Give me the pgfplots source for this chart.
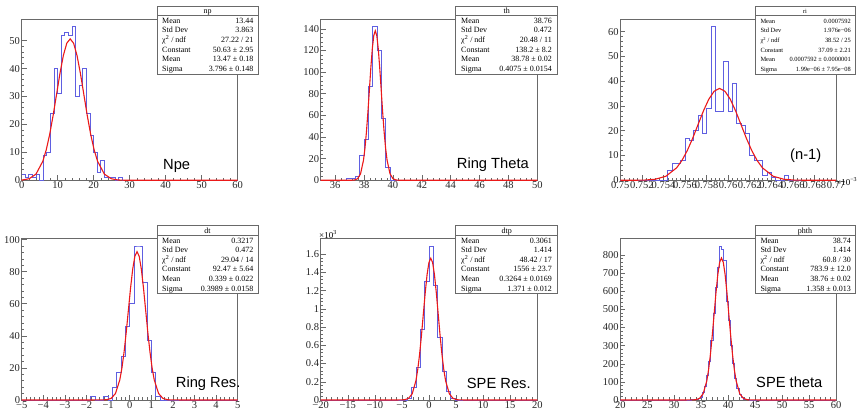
\documentclass[border=0pt]{standalone}
\usepackage{fontspec}
\setmainfont{Liberation Serif}
\newfontfamily\helv{Liberation Sans}
\usepackage{pgfplots}
\pgfplotsset{compat=1.18}
\definecolor{hblue}{RGB}{95,95,225}
\definecolor{fred}{RGB}{235,25,25}
\definecolor{frame}{RGB}{105,105,105}
\pgfplotsset{
 rootax/.style={
  scale only axis, anchor=south west, clip=false,
  axis line style={frame, line width=0.7pt},
  tick align=inside, tick pos=left,
  major tick length=5pt, minor tick length=2.5pt,
  every tick/.style={frame, line width=0.5pt},
  minor tick num=4,
  ticklabel style={font=\fontsize{10.5}{12}\selectfont, text=black!85},
  xticklabel style={inner sep=1pt},
  yticklabel style={inner sep=1.5pt},
  /pgf/number format/assume math mode=true,
  /pgf/number format/fixed,
  scaled ticks=false, ymin=0},
 hist/.style={const plot mark left, hblue, line width=0.8pt, no marks},
 fit/.style={fred, line width=1.1pt, no marks}}
\def\sfont{\fontsize{8}{9}\selectfont}
\newcommand{\statbox}[4]{%
 \draw[frame, line width=0.6pt, fill=white] (#1,{411-#2}) rectangle (#3,{411-#2-68});
 \draw[frame, line width=0.5pt] (#1,{411-#2-9.7}) -- (#3,{411-#2-9.7});
 \node[font=\sfont, inner sep=0, anchor=base] at ({(#1+#3)/2},{411-#2-4.9-2.7}) {#4};}
\newcommand{\srow}[6]{%
 \node[anchor=base west, inner sep=0, font=\sfont] at (#1,{411-#3-14.7-9.6*#4-2.7}) {#5};
 \node[anchor=base east, inner sep=0, font=\sfont] at (#2,{411-#3-14.7-9.6*#4-2.7}) {#6};}
\newcommand{\lab}[3]{\node[anchor=base west, inner sep=0, font=\helv\fontsize{14.7}{16}\selectfont] at (#1,{411-#2}) {#3};}
\begin{document}
\begin{tikzpicture}[x=1pt,y=1pt]
\useasboundingbox (0,0) rectangle (860,411);
% ---------- P1 np
\begin{axis}[rootax, at={(21.7pt,230.7pt)}, width=216pt, height=161.3pt,
 xmin=0, xmax=60, ymax=57.75, xtick={0,10,...,60}, ytick={0,10,...,50}]
\addplot[hist] coordinates {(0,2)(1,1)(2,2)(3,1)(4,2)(5,0)(6,9)(7,10)(8,24)(9,40)(10,31)(11,52)(12,53)(13,52)(14,55)(15,30)(16,34)(17,40)(18,24)(19,16)(20,10)(21,3)(22,7)(23,1)(24,1)(25,1)(26,0)(27,1)(28,0)(60,0)};
\addplot[fit] coordinates {(0,0.09)(0.184,0.111)(2.082,0.563)(3.98,2.225)(5.878,6.852)(6.827,10.950)(7.776,16.437)(8.725,23.180)(9.674,30.709)(10.623,38.218)(11.572,44.681)(12.521,49.072)(13.47,50.63)(14.419,49.072)(15.368,44.681)(16.317,38.218)(17.266,30.709)(18.215,23.180)(19.164,16.437)(20.113,10.950)(21.062,6.852)(22.96,2.225)(24.858,0.563)(26.756,0.111)(28.654,0.017)(32,0)(60,0)};
\end{axis}
% ---------- P2 th
\begin{axis}[rootax, at={(320.7pt,230.7pt)}, width=216.6pt, height=161.3pt,
 xmin=35, xmax=50, ymax=149.1, xtick={36,38,...,50}, ytick={0,20,...,140}]
\addplot[hist] coordinates {(35,0)(36.8,2)(37.1,2)(37.4,4)(37.7,23)(38.0,38)(38.3,87)(38.6,142)(38.9,120)(39.2,57)(39.5,12)(39.8,0)(50,0)};
\addplot[fit] coordinates {(35,0)(37.15,0.046)(37.354,0.303)(37.558,1.535)(37.761,6.07)(37.965,18.70)(38.067,29.89)(38.169,44.87)(38.271,63.27)(38.373,83.82)(38.474,104.32)(38.576,121.96)(38.678,133.95)(38.78,138.2)(38.882,133.95)(38.984,121.96)(39.086,104.32)(39.188,83.82)(39.289,63.27)(39.391,44.87)(39.493,29.89)(39.595,18.70)(39.799,6.07)(40.003,1.535)(40.206,0.303)(40.41,0.046)(50,0)};
\end{axis}
% ---------- P3 ri
\begin{axis}[rootax, at={(620.3pt,230.7pt)}, width=215.7pt, height=161.3pt,
 xmin=0.75, xmax=0.77, ymax=65.1,
 xtick={0.75,0.752,0.754,0.756,0.758,0.76,0.762,0.764,0.766,0.768,0.77},
 xticklabels={0.75,0.752,0.754,0.756,0.758,0.76,0.762,0.764,0.766,0.768,0.77},
 ytick={0,10,...,60}]
\addplot[hist] coordinates {(0.75,0)(0.7544,4)(0.7548,7)(0.7552,7)(0.7556,8)(0.7560,17)(0.7564,16)(0.7568,20)(0.7572,26)(0.7576,19)(0.7580,29)(0.7584,62)(0.7588,28)(0.7592,28)(0.7596,48)(0.7600,28)(0.7604,39)(0.7608,23)(0.7612,22)(0.7616,19)(0.7620,10)(0.7624,8)(0.7628,8)(0.7632,2)(0.7636,3)(0.7640,1)(0.7644,0)(0.7652,2)(0.7656,0)(0.77,0)};
\addplot[fit] coordinates {(0.75,0)(0.75124,0.0124)(0.752235,0.0812)(0.75323,0.412)(0.754225,1.630)(0.75522,5.020)(0.7557175,8.021)(0.756215,12.041)(0.7567125,16.981)(0.75721,22.496)(0.7577075,27.997)(0.758205,32.732)(0.7587025,35.949)(0.7592,37.09)(0.7596975,35.949)(0.760195,32.732)(0.7606925,27.997)(0.76119,22.496)(0.7616875,16.981)(0.762185,12.041)(0.7626825,8.021)(0.76318,5.020)(0.764175,1.630)(0.76517,0.412)(0.766165,0.0812)(0.76716,0.0124)(0.77,0)};
\end{axis}
% ---------- P4 dt
\begin{axis}[rootax, at={(21.7pt,11pt)}, width=216pt, height=161.7pt,
 xmin=-5, xmax=5, ymax=100.8, xtick={-5,-4,...,5},
 xticklabels={−5,−4,−3,−2,−1,0,1,2,3,4,5}, ytick={0,20,...,100}]
\addplot[hist] coordinates {(-5,0)(-1.8,2)(-1.6,0)(-1.2,2)(-1.0,0)(-0.8,8)(-0.6,17)(-0.4,27)(-0.2,46)(0,60)(0.2,96)(0.4,96)(0.6,73)(0.8,37)(1.0,17)(1.2,2)(1.4,0)(5,0)};
\addplot[fit] coordinates {(-5,0)(-1.2566,0.031)(-1.05715,0.2025)(-0.8577,1.027)(-0.65825,4.063)(-0.4588,12.515)(-0.359075,19.999)(-0.25935,30.020)(-0.159625,42.335)(-0.0599,56.086)(0.039825,69.800)(0.13955,81.605)(0.239275,89.625)(0.339,92.47)(0.438725,89.625)(0.53845,81.605)(0.638175,69.800)(0.7379,56.086)(0.837625,42.335)(0.93735,30.020)(1.037075,19.999)(1.1368,12.515)(1.33625,4.063)(1.5357,1.027)(1.73515,0.2025)(1.9346,0.031)(5,0)};
\end{axis}
% ---------- P5 dtp
\begin{axis}[rootax, at={(320.7pt,11pt)}, width=216.6pt, height=161.7pt,
 xmin=-20, xmax=20, ymax=1.7745, xtick={-20,-15,...,20},
 xticklabels={−20,−15,−10,−5,0,5,10,15,20},
 ytick={0,0.2,0.4,0.6,0.8,1,1.2,1.4,1.6}]
\addplot[hist] coordinates {(-20,0)(-4.0,0.02)(-3.2,0.14)(-2.4,0.36)(-1.6,0.78)(-0.8,1.30)(0,1.69)(0.8,1.26)(1.6,0.69)(2.4,0.31)(3.2,0.09)(4.0,0.015)(4.8,0)(20,0)};
\addplot[fit] coordinates {(-20,0)(-5.1576,0.0005)(-4.4721,0.0034)(-3.7866,0.0173)(-3.1011,0.0684)(-2.4156,0.2106)(-2.07285,0.3365)(-1.7301,0.5052)(-1.38735,0.7124)(-1.0446,0.9438)(-0.70185,1.1745)(-0.3591,1.3732)(-0.01635,1.5081)(0.3264,1.556)(0.66915,1.5081)(1.0119,1.3732)(1.35465,1.1745)(1.6974,0.9438)(2.04015,0.7124)(2.3829,0.5052)(2.72565,0.3365)(3.0684,0.2106)(3.7539,0.0684)(4.4394,0.0173)(5.1249,0.0034)(5.8104,0.0005)(20,0)};
\end{axis}
% ---------- P6 phth
\begin{axis}[rootax, at={(620.3pt,11pt)}, width=215.7pt, height=161.7pt,
 xmin=20, xmax=60, ymax=892.5, xtick={20,25,...,60}, ytick={0,100,...,800}]
\addplot[hist] coordinates {(20,0)(33.2,3)(33.6,1)(34.0,3)(34.4,7)(34.8,17)(35.2,40)(35.6,75)(36.0,135)(36.4,215)(36.8,330)(37.2,480)(37.6,620)(38.0,730)(38.4,850)(38.8,830)(39.2,770)(39.6,545)(40.0,440)(40.4,300)(40.8,200)(41.2,120)(41.6,65)(42.0,30)(42.4,14)(42.8,6)(43.2,2)(43.6,1)(44.0,0)(60,0)};
\addplot[fit] coordinates {(20,0)(33.328,0.263)(34.007,1.717)(34.686,8.709)(35.365,34.44)(36.044,106.09)(36.3835,169.53)(36.723,254.49)(37.0625,358.89)(37.402,475.46)(37.7415,591.72)(38.081,691.79)(38.4205,759.78)(38.76,783.9)(39.0995,759.78)(39.439,691.79)(39.7785,591.72)(40.118,475.46)(40.4575,358.89)(40.797,254.49)(41.1365,169.53)(41.476,106.09)(42.155,34.44)(42.834,8.709)(43.513,1.717)(44.192,0.263)(60,0)};
\end{axis}
% ---------- multiplier labels
\node[anchor=south west, inner sep=0, font=\fontsize{9}{10}\selectfont] at (319,{411-238.5}) {×10\textsuperscript{3}};
\node[anchor=west, inner sep=0, font=\fontsize{9}{10}\selectfont] at (836,{411-181.5}) {×10\textsuperscript{−3}};
% ---------- stat boxes
\statbox{157}{6}{258}{np}
\srow{162}{253.5}{6}{0}{Mean}{13.44}
\srow{162}{253.5}{6}{1}{Std Dev}{3.863}
\srow{162}{253.5}{6}{2}{χ\textsuperscript{2} / ndf}{27.22 / 21}
\srow{162}{253.5}{6}{3}{Constant}{50.63 ± 2.95}
\srow{162}{253.5}{6}{4}{Mean}{13.47 ± 0.18}
\srow{162}{253.5}{6}{5}{Sigma}{3.796 ± 0.148}
\statbox{455.7}{6}{557.7}{th}
\srow{461}{552}{6}{0}{Mean}{38.76}
\srow{461}{552}{6}{1}{Std Dev}{0.472}
\srow{461}{552}{6}{2}{χ\textsuperscript{2} / ndf}{20.48 / 11}
\srow{461}{552}{6}{3}{Constant}{138.2 ± 8.2}
\srow{461}{552}{6}{4}{Mean}{38.78 ± 0.02}
\srow{461}{552}{6}{5}{Sigma}{0.4075 ± 0.0154}
\begin{scope}
\def\sfont{\fontsize{6.4}{7}\selectfont}
\statbox{755}{6}{855}{ri}
\srow{760.3}{851}{6}{0}{Mean}{0.0007592}
\srow{760.3}{851}{6}{1}{Std Dev}{1.976e−06}
\srow{760.3}{851}{6}{2}{χ\textsuperscript{2} / ndf}{38.52 / 25}
\srow{760.3}{851}{6}{3}{Constant}{37.09 ± 2.21}
\srow{760.3}{851}{6}{4}{Mean}{0.0007592 ± 0.0000001}
\srow{760.3}{851}{6}{5}{Sigma}{1.99e−06 ± 7.95e−08}
\end{scope}
\statbox{157}{225.7}{258}{dt}
\srow{162}{253.5}{225.7}{0}{Mean}{0.3217}
\srow{162}{253.5}{225.7}{1}{Std Dev}{0.472}
\srow{162}{253.5}{225.7}{2}{χ\textsuperscript{2} / ndf}{29.04 / 14}
\srow{162}{253.5}{225.7}{3}{Constant}{92.47 ± 5.64}
\srow{162}{253.5}{225.7}{4}{Mean}{0.339 ± 0.022}
\srow{162}{253.5}{225.7}{5}{Sigma}{0.3989 ± 0.0158}
\statbox{455.7}{225.7}{557.7}{dtp}
\srow{461}{552}{225.7}{0}{Mean}{0.3061}
\srow{461}{552}{225.7}{1}{Std Dev}{1.414}
\srow{461}{552}{225.7}{2}{χ\textsuperscript{2} / ndf}{48.42 / 17}
\srow{461}{552}{225.7}{3}{Constant}{1556 ± 23.7}
\srow{461}{552}{225.7}{4}{Mean}{0.3264 ± 0.0169}
\srow{461}{552}{225.7}{5}{Sigma}{1.371 ± 0.012}
\statbox{755}{225.7}{855}{phth}
\srow{760.3}{851}{225.7}{0}{Mean}{38.74}
\srow{760.3}{851}{225.7}{1}{Std Dev}{1.414}
\srow{760.3}{851}{225.7}{2}{χ\textsuperscript{2} / ndf}{60.8 / 30}
\srow{760.3}{851}{225.7}{3}{Constant}{783.9 ± 12.0}
\srow{760.3}{851}{225.7}{4}{Mean}{38.76 ± 0.02}
\srow{760.3}{851}{225.7}{5}{Sigma}{1.358 ± 0.013}
% ---------- panel labels
\lab{163}{169.3}{Npe}
\lab{456.7}{169}{Ring Theta}
\lab{790}{160}{(n-1)}
\lab{175.7}{387.7}{Ring Res.}
\lab{466.7}{389}{SPE Res.}
\lab{756}{387.7}{SPE theta}
\end{tikzpicture}
\end{document}
